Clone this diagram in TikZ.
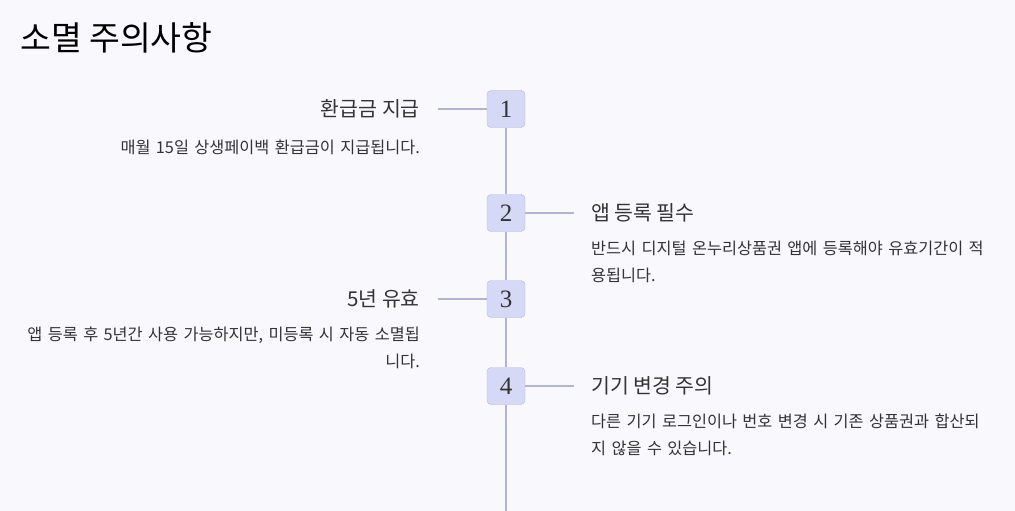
\documentclass[tikz,border=0pt]{standalone}
\usepackage{fontspec}
\newfontfamily\kr{Noto Sans CJK KR}
\newfontfamily\numf{Liberation Serif}
\definecolor{bg}{HTML}{F9F9FD}
\definecolor{boxf}{HTML}{D6D9F5}
\definecolor{boxd}{HTML}{B4B9E0}
\definecolor{ln}{HTML}{B0B5D8}
\definecolor{tx}{HTML}{333333}
\begin{document}
\begin{tikzpicture}[x=1pt,y=-1pt,
  numbox/.style={draw=boxd,fill=boxf,rounded corners=4pt,minimum width=38pt,minimum height=37pt,inner sep=0pt,font=\numf\fontsize{25}{25}\selectfont,text=tx},
  head/.style={font=\kr\fontsize{20.5}{24}\selectfont,text=tx,inner sep=0pt},
  bodyL/.style={font=\kr\fontsize{16.3}{27}\selectfont,text=tx,inner sep=0pt,align=right,text width=400pt},
  bodyR/.style={font=\kr\fontsize{16.3}{27}\selectfont,text=tx,inner sep=0pt,align=left,text width=400pt},
  conn/.style={draw=ln,line width=1.3pt}]
\useasboundingbox (0,0) rectangle (1015,511);
\fill[bg] (0,0) rectangle (1015,511);
\node[anchor=west,font=\kr\fontsize{33.5}{36}\selectfont,text=black,inner sep=0pt] (title) at (20,38) {소멸 주의사항};
\coordinate (bot) at (506,511);
\node[numbox] (n1) at (506,109) {1};
\node[numbox] (n2) at (506,213) {2};
\node[numbox] (n3) at (506,299) {3};
\node[numbox] (n4) at (506,386) {4};
\draw[conn] (n1) -- (n2) (n2) -- (n3) (n3) -- (n4) (n4) -- (bot);
\node[head,anchor=east] (h1) at (420,109) {환급금 지급};
\node[head,anchor=west] (h2) at (591,213) {앱 등록 필수};
\node[head,anchor=east] (h3) at (420,299) {5년 유효};
\node[head,anchor=west] (h4) at (591,386) {기기 변경 주의};
\coordinate (c1) at (438,109); \coordinate (c2) at (574,213);
\coordinate (c3) at (438,299); \coordinate (c4) at (574,386);
\draw[conn] (c1) -- (n1.west) (n2.east) -- (c2) (c3) -- (n3.west) (n4.east) -- (c4);
\node[bodyL,anchor=north east] (b1) at (420,140) {매월 15일 상생페이백 환급금이 지급됩니다.};
\node[bodyR,anchor=north west] (b2) at (591,241) {반드시 디지털 온누리상품권 앱에 등록해야 유효기간이 적\\용됩니다.};
\node[bodyL,anchor=north east] (b3) at (420,327) {앱 등록 후 5년간 사용 가능하지만, 미등록 시 자동 소멸됩\\니다.};
\node[bodyR,anchor=north west] (b4) at (591,414) {다른 기기 로그인이나 번호 변경 시 기존 상품권과 합산되\\지 않을 수 있습니다.};
\end{tikzpicture}
\end{document}
